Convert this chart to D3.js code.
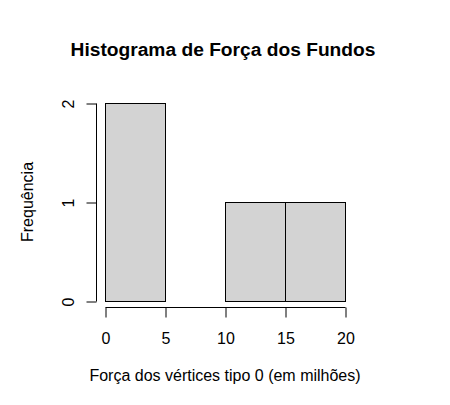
<!DOCTYPE html>
<html>
<head>
<meta charset="utf-8">
<script src="https://cdn.jsdelivr.net/npm/d3@7"></script>
<style>
  body { margin: 0; background: #fff; }
  svg { font-family: "Liberation Sans", Arial, sans-serif; }
</style>
</head>
<body>
<div id="chart"></div>
<script>
// histogram bins (em milhões) and counts
var binStarts = [0, 5, 10, 15];
var binEnds = [5, 10, 15, 20];
var counts = [2, 0, 1, 1];
var xTicks = [0, 5, 10, 15, 20];
var yTicks = [0, 1, 2];

var svg = d3.select("#chart").append("svg")
    .attr("width", 450)
    .attr("height", 405);

var x = d3.scaleLinear().domain([0, 20]).range([105, 345]);
var y = d3.scaleLinear().domain([0, 2]).range([301, 103]);

var bins = counts.map(function(c, i) { return {x0: binStarts[i], x1: binEnds[i], n: c}; });

svg.append("g").selectAll("rect")
    .data(bins)
    .enter().append("rect")
    .attr("x", function(d) { return x(d.x0) + 0.5; })
    .attr("y", function(d) { return Math.round(y(d.n)) + 0.5; })
    .attr("width", function(d) { return x(d.x1) - x(d.x0); })
    .attr("height", function(d) { return Math.round(y(0)) - Math.round(y(d.n)); })
    .attr("fill", "#d3d3d3")
    .attr("stroke", "#000")
    .attr("stroke-width", 1);

// x axis (R style, offset below plot)
var xAxis = svg.append("g")
    .attr("transform", "translate(0.5,307.5)")
    .call(d3.axisBottom(x).tickValues(xTicks).tickSize(10).tickSizeOuter(0));
xAxis.select(".domain").attr("d", "M" + x(0) + ",0H" + x(20));
xAxis.selectAll("text")
    .attr("font-size", 16)
    .attr("font-family", "Liberation Sans, Arial, sans-serif")
    .attr("fill", "#000")
    .attr("y", 36.5)
    .attr("dy", null);

// y axis
var yAxis = svg.append("g")
    .attr("transform", "translate(96.5,0.5)")
    .call(d3.axisLeft(y).tickValues(yTicks).tickFormat(d3.format("d")).tickSize(10).tickSizeOuter(0));
yAxis.select(".domain").attr("d", "M0," + Math.round(y(0)) + "V" + Math.round(y(2)));
yAxis.selectAll("text")
    .attr("font-size", 16)
    .attr("font-family", "Liberation Sans, Arial, sans-serif")
    .attr("fill", "#000")
    .attr("x", null)
    .attr("dy", null)
    .attr("text-anchor", "middle")
    .attr("transform", "translate(-23,0) rotate(-90)");

// title
svg.append("text")
    .attr("x", 223)
    .attr("y", 56)
    .attr("text-anchor", "middle")
    .attr("font-weight", "bold")
    .attr("font-size", 19.2)
    .text("Histograma de Força dos Fundos");

// x label
svg.append("text")
    .attr("x", 225)
    .attr("y", 381)
    .attr("text-anchor", "middle")
    .attr("font-size", 16)
    .text("Força dos vértices tipo 0 (em milhões)");

// y label
svg.append("text")
    .attr("transform", "translate(33,202) rotate(-90)")
    .attr("text-anchor", "middle")
    .attr("font-size", 16)
    .text("Frequência");
</script>
</body>
</html>
